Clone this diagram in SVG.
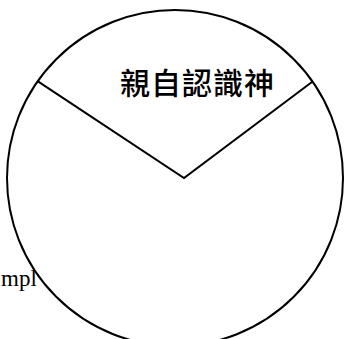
<svg xmlns="http://www.w3.org/2000/svg" width="345" height="339" viewBox="0 0 345 339">
  <style>
    .stroke { fill: none; stroke: #000; stroke-width: 2; }
    .title { font-family: "Noto Sans CJK TC", "Noto Sans CJK SC", sans-serif; font-weight: 500; font-size: 30px; fill: #000; }
    .side { font-family: "Liberation Serif", serif; font-size: 23px; fill: #000; }
  </style>
  <rect width="345" height="339" fill="#fff"/>
  <text class="side" x="1" y="286">mpl</text>
  <g id="circle">
    <circle cx="175" cy="178" r="168" fill="#fff" stroke="#000" stroke-width="2"/>
  </g>
  <g id="connectors">
    <polyline class="stroke" points="38.3,81.7 184,178 312.3,81.7"/>
  </g>
  <g id="title">
    <text class="title" x="120" y="94" letter-spacing="1">親自認識神</text>
  </g>
</svg>
